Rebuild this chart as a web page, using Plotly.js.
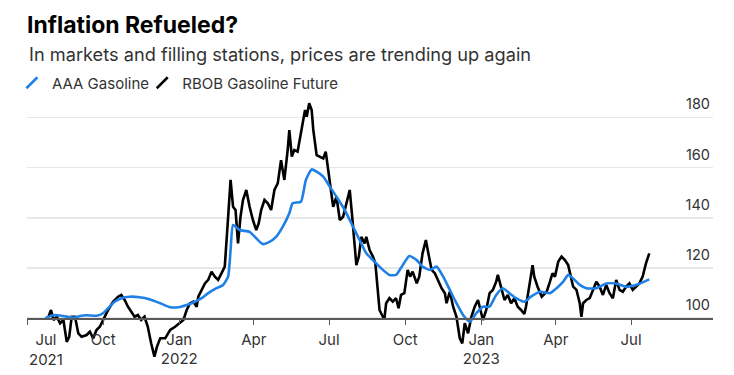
<!DOCTYPE html>
<html><head><meta charset="utf-8">
<script src="https://cdn.plot.ly/plotly-3.0.1.min.js"></script>
<style>html,body{margin:0;padding:0;background:#fff}#chart{width:734px;height:375px}</style>
</head><body><div id="chart"></div>
<script>
// RBOB Gasoline Future (indexed)
const rbobDates = ["2021-07-27","2021-07-30","2021-08-02","2021-08-06","2021-08-10","2021-08-14","2021-08-18","2021-08-21","2021-08-24","2021-08-28","2021-09-01","2021-09-05","2021-09-11","2021-09-15","2021-09-19","2021-09-23","2021-09-27","2021-10-03","2021-10-07","2021-10-13","2021-10-19","2021-10-23","2021-10-27","2021-10-31","2021-11-04","2021-11-08","2021-11-12","2021-11-16","2021-11-20","2021-11-24","2021-11-28","2021-12-02","2021-12-05","2021-12-09","2021-12-15","2021-12-21","2021-12-27","2022-01-02","2022-01-06","2022-01-10","2022-01-14","2022-01-18","2022-01-22","2022-01-24","2022-01-28","2022-02-01","2022-02-05","2022-02-09","2022-02-13","2022-02-17","2022-02-21","2022-02-25","2022-02-28","2022-03-02","2022-03-04","2022-03-07","2022-03-10","2022-03-13","2022-03-16","2022-03-19","2022-03-23","2022-03-27","2022-03-31","2022-04-04","2022-04-07","2022-04-10","2022-04-14","2022-04-18","2022-04-22","2022-04-26","2022-04-30","2022-05-04","2022-05-08","2022-05-12","2022-05-14","2022-05-17","2022-05-20","2022-05-24","2022-05-28","2022-06-02","2022-06-04","2022-06-07","2022-06-10","2022-06-12","2022-06-16","2022-06-20","2022-06-24","2022-06-27","2022-06-30","2022-07-04","2022-07-06","2022-07-10","2022-07-14","2022-07-18","2022-07-22","2022-07-26","2022-07-29","2022-08-01","2022-08-03","2022-08-06","2022-08-09","2022-08-13","2022-08-15","2022-08-19","2022-08-23","2022-08-26","2022-08-29","2022-08-31","2022-09-04","2022-09-06","2022-09-08","2022-09-12","2022-09-16","2022-09-20","2022-09-23","2022-09-26","2022-09-30","2022-10-04","2022-10-07","2022-10-10","2022-10-15","2022-10-18","2022-10-22","2022-10-26","2022-10-29","2022-11-02","2022-11-06","2022-11-10","2022-11-14","2022-11-18","2022-11-20","2022-11-24","2022-11-28","2022-12-02","2022-12-06","2022-12-09","2022-12-12","2022-12-16","2022-12-20","2022-12-24","2022-12-28","2022-12-31","2023-01-03","2023-01-07","2023-01-11","2023-01-15","2023-01-19","2023-01-21","2023-01-25","2023-01-29","2023-02-02","2023-02-06","2023-02-10","2023-02-14","2023-02-18","2023-02-22","2023-02-24","2023-02-28","2023-03-04","2023-03-06","2023-03-10","2023-03-15","2023-03-21","2023-03-25","2023-03-28","2023-03-31","2023-04-04","2023-04-08","2023-04-12","2023-04-16","2023-04-19","2023-04-22","2023-04-26","2023-04-30","2023-05-02","2023-05-04","2023-05-08","2023-05-12","2023-05-16","2023-05-20","2023-05-24","2023-05-28","2023-06-01","2023-06-05","2023-06-09","2023-06-13","2023-06-17","2023-06-21","2023-06-25","2023-06-29","2023-07-03","2023-07-07","2023-07-11","2023-07-15","2023-07-19","2023-07-23"];
const rbobValues = [100.5,103.2,99.2,100.5,97.9,99.2,90.5,92.5,100.5,100.5,93.9,92.5,93.2,94.5,91.9,95.2,96.5,100.5,103.2,106.5,108.5,109.2,107.2,104.5,102.5,100.5,101.2,99.2,100.5,96.5,89.9,84.6,88.5,91.9,91.9,95.2,96.5,97.9,99.2,103.2,105.9,106.5,104.5,108.5,111.2,113.8,115.2,118.5,116.5,115.2,117.8,120.5,135.1,147.1,155.1,144.4,143.1,129.8,140.4,147.1,151.1,144.4,139.1,135.1,137.8,143.1,147.1,145.8,143.1,151.1,153.7,163.0,155.1,167.0,175.0,164.4,167.0,166.4,173.7,183.0,180.3,185.7,183.0,175.0,165.0,164.4,163.7,166.4,159.1,148.4,144.4,148.4,139.1,140.4,145.8,151.1,140.4,128.4,121.1,124.5,132.4,129.8,132.4,127.1,124.5,121.8,111.2,103.2,100.5,99.9,105.9,107.9,106.5,107.9,103.9,109.2,109.9,119.2,116.5,118.5,113.8,116.5,125.8,131.1,125.8,119.2,117.8,114.5,111.9,109.9,105.9,110.5,104.5,100.5,91.9,89.9,97.9,93.9,100.5,104.5,107.2,103.2,99.2,103.2,109.9,111.2,114.5,117.2,112.5,107.2,109.2,105.9,107.9,104.5,103.2,101.6,104.5,113.8,121.1,116.5,112.5,108.5,110.5,114.5,117.8,116.5,122.5,124.5,123.1,121.1,116.5,112.5,111.2,105.9,100.5,105.9,107.2,107.9,111.2,114.5,112.5,109.2,113.2,109.9,107.9,115.2,111.2,110.5,112.5,113.8,111.2,112.5,113.8,116.5,121.8,125.8];

// AAA Gasoline (indexed)
const aaaDates = ["2021-07-23","2021-08-02","2021-08-14","2021-08-26","2021-09-03","2021-09-11","2021-09-23","2021-10-01","2021-10-07","2021-10-15","2021-10-23","2021-11-02","2021-11-14","2021-11-26","2021-12-09","2021-12-21","2021-12-31","2022-01-10","2022-01-20","2022-01-28","2022-02-05","2022-02-15","2022-02-23","2022-03-01","2022-03-04","2022-03-07","2022-03-15","2022-03-27","2022-04-04","2022-04-12","2022-04-20","2022-04-28","2022-05-06","2022-05-14","2022-05-18","2022-05-28","2022-06-03","2022-06-10","2022-06-16","2022-06-24","2022-07-02","2022-07-10","2022-07-20","2022-07-30","2022-08-07","2022-08-15","2022-08-23","2022-09-02","2022-09-12","2022-09-20","2022-09-28","2022-10-06","2022-10-15","2022-10-22","2022-10-31","2022-11-08","2022-11-16","2022-11-24","2022-12-02","2022-12-10","2022-12-18","2022-12-26","2023-01-03","2023-01-11","2023-01-19","2023-01-27","2023-02-04","2023-02-12","2023-02-22","2023-03-02","2023-03-13","2023-03-25","2023-04-02","2023-04-10","2023-04-16","2023-04-22","2023-04-30","2023-05-08","2023-05-20","2023-06-01","2023-06-13","2023-06-25","2023-07-07","2023-07-17","2023-07-23"];
const aaaValues = [99.9,101.2,100.8,100.1,100.8,101.1,100.9,101.9,103.9,106.5,107.9,108.5,108.3,107.5,105.9,104.3,104.3,105.2,106.5,107.9,109.9,111.9,113.2,116.5,127.1,137.1,135.1,134.4,131.8,129.5,130.4,132.4,136.4,141.8,145.8,146.4,155.1,159.3,158.4,156.4,152.4,148.4,143.1,136.4,131.1,125.8,123.1,119.8,117.2,117.2,121.1,124.7,123.1,120.5,119.2,120.5,116.5,111.2,105.9,101.2,98.5,101.9,104.5,104.5,109.2,111.9,109.9,107.9,106.5,108.5,110.5,109.9,111.9,114.5,117.2,115.8,113.2,111.9,111.9,113.8,113.8,112.5,113.2,114.5,115.4];

const seriesNames = ["AAA Gasoline", "RBOB Gasoline Future"];
const xTickVals = ["2021-07-01","2021-10-01","2022-01-01","2022-04-01","2022-07-01","2022-10-01","2023-01-01","2023-04-01","2023-07-01"];
const xTickText = ["Jul<br>2021","Oct","Jan<br>2022","Apr","Jul","Oct","Jan<br>2023","Apr","Jul"];
const yTickVals = [100,120,140,160,180];
const titleText = "Inflation Refueled?";
const subtitleText = "In markets and filling stations, prices are trending up again";

const FONT = "Inter, 'Liberation Sans', Arial, sans-serif";
const BLUE = "#1f80e6", BLACK = "#000000";

const traces = [
  {x: rbobDates, y: rbobValues, type: "scatter", mode: "lines", line: {color: BLACK, width: 2.6}, showlegend: false},
  {x: aaaDates, y: aaaValues, type: "scatter", mode: "lines", line: {color: BLUE, width: 2.6, shape: "spline", smoothing: 0.5}, showlegend: false},
  {x: [null], y: [null], type: "scatter", mode: "markers", name: seriesNames[0], legend: "legend", marker: {symbol: "line-ne", size: 11, color: BLUE, line: {color: BLUE, width: 2.5}}},
  {x: [null], y: [null], type: "scatter", mode: "markers", name: seriesNames[1], legend: "legend2", marker: {symbol: "line-ne", size: 11, color: BLACK, line: {color: BLACK, width: 2.5}}}
];

const T = 95, B = 15, H = 375;
const plotH = H - T - B;
const yMin = 83.24, yMax = 188.99;
const axisPos = (100 - yMin) / (yMax - yMin);
const legendFont = {family: FONT, size: 15, color: "#333"};
const legendY = 1 + (T - 83)/plotH;

const layout = {
  width: 734, height: 375,
  margin: {l: 27, r: 21, t: T, b: B, pad: 0},
  paper_bgcolor: "#fff", plot_bgcolor: "#fff",
  font: {family: FONT, color: "#333", size: 14},
  title: {text: "<b>" + titleText + "</b>", xref: "paper", x: 0, xanchor: "left", yref: "container", y: 1 - 25/375, yanchor: "middle", font: {family: FONT, size: 23, color: "#000"}},
  showlegend: true,
  legend: {orientation: "h", x: -0.022, xanchor: "left", y: legendY, yanchor: "middle", font: legendFont, bgcolor: "rgba(0,0,0,0)"},
  legend2: {orientation: "h", x: 0.168, xanchor: "left", y: legendY, yanchor: "middle", font: legendFont, bgcolor: "rgba(0,0,0,0)"},
  xaxis: {type: "date", range: ["2021-07-01", "2023-10-08"], anchor: "free", position: axisPos,
    tickvals: xTickVals, ticktext: xTickText.map((t, i) => i === 0 ? "" : t),
    showgrid: false, zeroline: false, showline: true, linecolor: "#5a5a5a", linewidth: 1.5,
    ticks: "outside", ticklen: 5, tickwidth: 1, tickcolor: "#5a5a5a", ticklabelstandoff: 2,
    tickfont: {family: FONT, size: 15, color: "#333"}},
  yaxis: {range: [yMin, yMax], side: "right", tickvals: yTickVals, ticktext: yTickVals.map(String),
    ticklabelposition: "inside top", ticklabelshift: -3, showgrid: true, gridcolor: "#e8e8e8", gridwidth: 1.5,
    zeroline: false, showline: false, ticks: "",
    tickfont: {family: FONT, size: 14.5, color: "#333"}},
  annotations: [
    {text: subtitleText, xref: "paper", x: 0, xanchor: "left", yref: "paper", y: 1 + (T - 54)/plotH, yanchor: "middle", showarrow: false, font: {family: FONT, size: 18.2, color: "#333"}},
    {text: xTickText[0], xref: "paper", x: 0, xanchor: "left", yref: "paper", y: axisPos - 10/plotH, yanchor: "top", align: "center", showarrow: false, font: {family: FONT, size: 15, color: "#333"}}
  ]
};

Plotly.newPlot("chart", traces, layout, {displayModeBar: false, staticPlot: true});
</script>
</body></html>
